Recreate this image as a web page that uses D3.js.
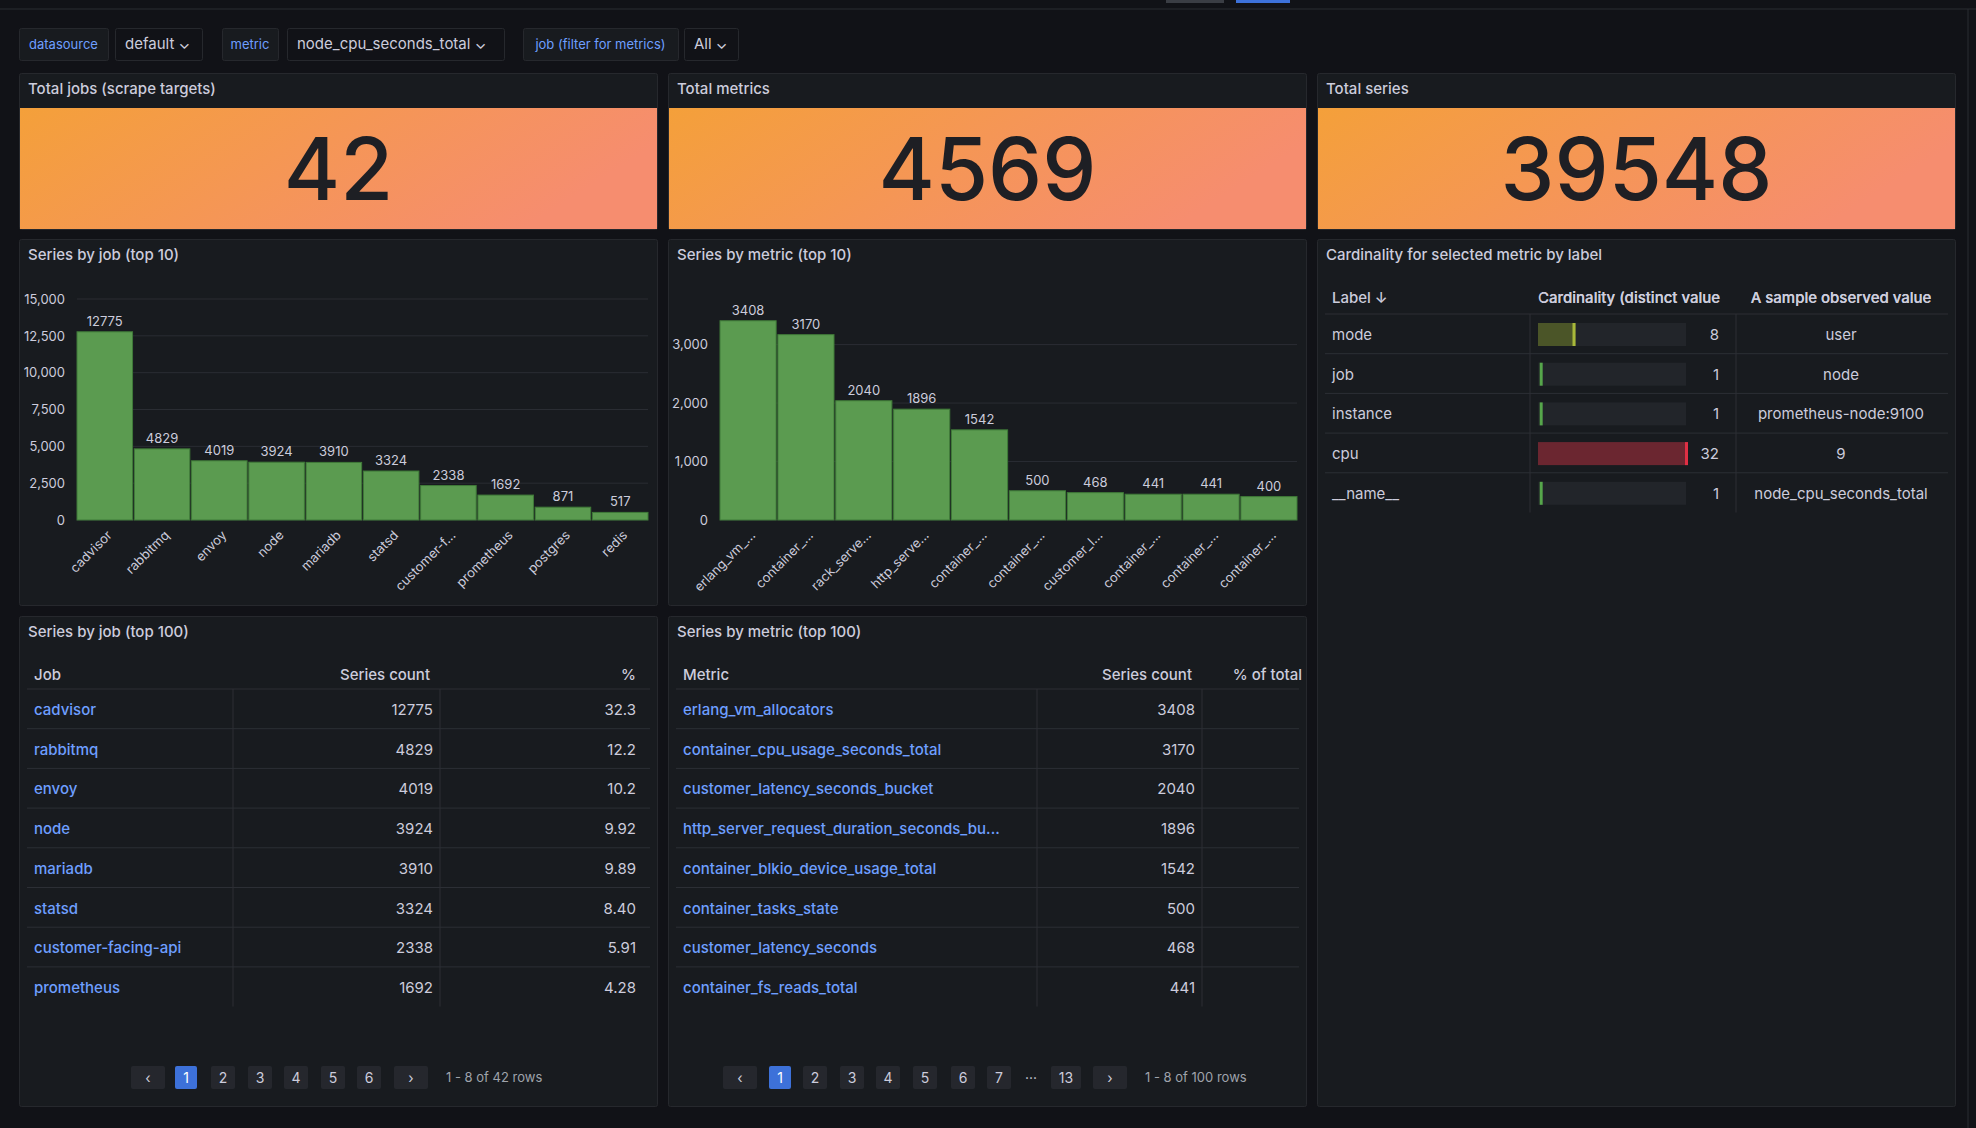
<!DOCTYPE html>
<html><head><meta charset="utf-8">
<script src="https://cdn.jsdelivr.net/npm/d3@7"></script>
<style>
body{margin:0;background:#111217;overflow:hidden}
svg{display:block;font-family:Inter,"Noto Sans",sans-serif}
</style></head><body>
<div id="dash"></div>
<script>
// stat values
const statTitles = ["Total jobs (scrape targets)", "Total metrics", "Total series"];
const statValues = [42, 4569, 39548];

// top-10 bar charts
const jobNames = ["cadvisor","rabbitmq","envoy","node","mariadb","statsd","customer-f...","prometheus","postgres","redis"];
const jobCounts = [12775,4829,4019,3924,3910,3324,2338,1692,871,517];
const metricNames = ["erlang_vm_...","container_...","rack_serve...","http_serve...","container_...","container_...","customer_l...","container_...","container_...","container_..."];
const metricCounts = [3408,3170,2040,1896,1542,500,468,441,441,400];
const jobTicks = [0,2500,5000,7500,10000,12500,15000];
const metricTicks = [0,1000,2000,3000];

// top-100 tables (first page)
const tableJobs = ["cadvisor","rabbitmq","envoy","node","mariadb","statsd","customer-facing-api","prometheus"];
const tableJobCounts = [12775,4829,4019,3924,3910,3324,2338,1692];
const tableJobPct = ["32.3","12.2","10.2","9.92","9.89","8.40","5.91","4.28"];
const tableMetrics = ["erlang_vm_allocators","container_cpu_usage_seconds_total","customer_latency_seconds_bucket","http_server_request_duration_seconds_bu...","container_blkio_device_usage_total","container_tasks_state","customer_latency_seconds","container_fs_reads_total"];
const tableMetricCounts = [3408,3170,2040,1896,1542,500,468,441];

// cardinality by label
const cardLabels = ["mode","job","instance","cpu","__name__"];
const cardValues = [8,1,1,32,1];
const cardSamples = ["user","node","prometheus-node:9100","9","node_cpu_seconds_total"];

const W = 1976, H = 1128;
const C = {bg:"#111217", panel:"#181b1f", border:"#26282d", text:"#ccccdc", dim:"#9fa3ab", blue:"#6e9fff", line:"#2c2f35", grid:"#2a2d33"};

const svg = d3.select("#dash").append("svg").attr("width", W).attr("height", H);
svg.append("rect").attr("width", W).attr("height", H).attr("fill", C.bg);
svg.append("line").attr("x1",0).attr("x2",W).attr("y1",9).attr("y2",9).attr("stroke","#2a2d33");
svg.append("rect").attr("x",1166).attr("y",0).attr("width",58).attr("height",3).attr("fill","#3a3d44");
svg.append("rect").attr("x",1236).attr("y",0).attr("width",54).attr("height",3).attr("fill","#3d71d9");
svg.append("line").attr("x1",1968).attr("x2",1968).attr("y1",9).attr("y2",H).attr("stroke","#2a2d33");

// variable bar
const vars = [
  {x:19,w:89,t:"datasource",lab:true},{x:115,w:87,t:"default ⌄"},
  {x:222,w:56,t:"metric",lab:true},{x:287,w:217,t:"node_cpu_seconds_total ⌄"},
  {x:523,w:155,t:"job (filter for metrics)",lab:true},{x:684,w:54,t:"All ⌄"}
];
vars.forEach(v => {
  svg.append("rect").attr("x",v.x+.5).attr("y",28.5).attr("width",v.w).attr("height",32).attr("rx",2)
    .attr("fill", v.lab ? "#181b1f" : C.bg).attr("stroke", C.border);
  svg.append("text").attr("x", v.x + (v.lab ? v.w/2 : 10)).attr("y",49)
    .attr("text-anchor", v.lab ? "middle" : "start")
    .attr("fill", v.lab ? C.blue : C.text).attr("font-size", v.lab ? 13 : 15).text(v.t);
});

function panel(x, y, w, h, title) {
  const g = svg.append("g").attr("transform", `translate(${x},${y})`);
  g.append("rect").attr("x",.5).attr("y",.5).attr("width",w-1).attr("height",h-1).attr("rx",2)
    .attr("fill", C.panel).attr("stroke", C.border);
  g.append("text").attr("x",9).attr("y",21).attr("fill",C.text).attr("font-size",15).attr("font-weight",500).text(title);
  return g;
}

// stat panels
const defs = svg.append("defs");
const grad = defs.append("linearGradient").attr("id","statg").attr("x1","0").attr("x2","1").attr("y1","0").attr("y2","0.3");
grad.append("stop").attr("offset","0").attr("stop-color","#f4a03a");
grad.append("stop").attr("offset","1").attr("stop-color","#f68d6f");
const statX = [19, 668, 1317], statW = 639;
statTitles.forEach((t, i) => {
  const g = panel(statX[i], 73, statW, 157, t);
  g.append("rect").attr("x",1).attr("y",35).attr("width",statW-2).attr("height",121).attr("fill","url(#statg)");
  g.append("text").attr("x",statW/2).attr("y",127).attr("text-anchor","middle").attr("fill","#1e1f24")
    .attr("font-size",86).attr("font-weight",500).text(statValues[i]);
});

// bar charts
function barChart(x0, title, names, vals, ticks, yMax, left) {
  const g = panel(x0, 239, 639, 367, title);
  const x = d3.scaleBand().domain(d3.range(names.length)).range([left, 629]).paddingInner(0.03);
  const y = d3.scaleLinear().domain([0, yMax]).range([281, 60]);
  const ax = g.append("g").attr("transform", `translate(${left - 6},0)`)
    .call(d3.axisLeft(y).tickValues(ticks).tickSize(0).tickPadding(6));
  ax.select(".domain").remove();
  ax.selectAll("text").attr("fill", C.text).attr("font-size", 13).attr("font-family","Inter,sans-serif");
  g.selectAll(".gl").data(ticks).join("line").attr("x1", left).attr("x2", 629)
    .attr("y1", d => y(d)).attr("y2", d => y(d)).attr("stroke", C.grid);
  g.selectAll(".bar").data(vals).join("rect")
    .attr("x", (d, i) => x(i)).attr("y", d => y(d)).attr("width", x.bandwidth()).attr("height", d => y(0) - y(d))
    .attr("fill", "#5b9b50").attr("stroke", "#3f7a38").attr("stroke-width", 1);
  g.selectAll(".vl").data(vals).join("text")
    .attr("x", (d, i) => x(i) + x.bandwidth()/2).attr("y", d => y(d) - 6)
    .attr("text-anchor","middle").attr("fill",C.text).attr("font-size",13).text(d => d);
  g.selectAll(".xl").data(names).join("text")
    .attr("transform", (d, i) => `translate(${x(i) + x.bandwidth()/2 + 8},${y(0) + 16}) rotate(-45)`)
    .attr("text-anchor","end").attr("fill",C.text).attr("font-size",13).text(d => d);
}
barChart(19, "Series by job (top 10)", jobNames, jobCounts, jobTicks, 15000, 58);
barChart(668, "Series by metric (top 10)", metricNames, metricCounts, metricTicks, 3780, 52);

// top-100 tables
function table(x0, title, head, names, counts, pcts, seps, countR, pctR, pagerBtns, pagerText) {
  const g = panel(x0, 616, 639, 491, title);
  const rowY = i => 93 + i * 39.7;
  g.append("text").attr("x",15).attr("y",64).attr("fill",C.text).attr("font-size",15).attr("font-weight",500).text(head);
  g.append("text").attr("x",countR).attr("y",64).attr("text-anchor","end").attr("fill",C.text).attr("font-size",15).attr("font-weight",500).text("Series count");
  g.append("text").attr("x",pctR).attr("y",64).attr("text-anchor","end").attr("fill",C.text).attr("font-size",15).attr("font-weight",500).text(pctR > 630 ? "% of total" : "%");
  g.selectAll(".hl").data(d3.range(names.length + 1)).join("line")
    .attr("x1",8).attr("x2",631).attr("y1", i => rowY(i) - 20).attr("y2", i => rowY(i) - 20)
    .attr("stroke", C.line).attr("opacity", i => i === names.length ? 0 : 1);
  seps.forEach(s => g.append("line").attr("x1",s).attr("x2",s).attr("y1",rowY(0)-20).attr("y2",rowY(names.length)-20).attr("stroke",C.line));
  names.forEach((n, i) => {
    g.append("text").attr("x",15).attr("y",rowY(i)+6).attr("fill",C.blue).attr("font-size",15).attr("font-weight",500).text(n);
    g.append("text").attr("x",countR+3).attr("y",rowY(i)+6).attr("text-anchor","end").attr("fill",C.text).attr("font-size",15).text(counts[i]);
    if (pcts) g.append("text").attr("x",pctR).attr("y",rowY(i)+6).attr("text-anchor","end").attr("fill",C.text).attr("font-size",15).text(pcts[i]);
  });
  pagerBtns.forEach(b => {
    if (b.t !== "···") g.append("rect").attr("x",b.x-b.w/2).attr("y",450).attr("width",b.w).attr("height",23).attr("rx",2)
      .attr("fill", b.t === "1" ? "#3d71d9" : "#25272d");
    g.append("text").attr("x",b.x).attr("y",467).attr("text-anchor","middle").attr("fill", b.t === "1" ? "#fff" : C.text)
      .attr("font-size",14).text(b.t);
  });
  g.append("text").attr("x",pagerText).attr("y",466).attr("fill",C.dim).attr("font-size",13).text(
    x0 < 300 ? "1 - 8 of 42 rows" : "1 - 8 of 100 rows");
}
const leftPager = [["‹",129,34],["1",167,22],["2",204,24],["3",241,24],["4",277,24],["5",314,24],["6",350,24],["›",392,34]]
  .map(([t,x,w]) => ({t,x,w}));
const rightPager = [["‹",72,34],["1",112,22],["2",147,24],["3",184,24],["4",220,24],["5",257,24],["6",295,24],["7",331,24],["···",363,0],["13",398,30],["›",442,34]]
  .map(([t,x,w]) => ({t,x,w}));
table(19, "Series by job (top 100)", "Job", tableJobs, tableJobCounts, tableJobPct, [214, 421], 411, 617, leftPager, 427);
table(668, "Series by metric (top 100)", "Metric", tableMetrics, tableMetricCounts, null, [369, 534], 524, 634, rightPager, 477);

// cardinality panel
const cp = panel(1317, 239, 639, 868, "Cardinality for selected metric by label");
const cRowY = i => 95 + i * 39.7;
const heads = [["Label ↓",15,"start"],["Cardinality (distinct value",221,"start"],["A sample observed value",524,"middle"]];
heads.forEach(([t,x,a]) => cp.append("text").attr("x",x).attr("y",64).attr("text-anchor",a).attr("fill",C.text)
  .attr("font-size",15).attr("font-weight",500).text(t));
cp.append("rect").attr("x",215).attr("y",44).attr("width",10).attr("height",28).attr("fill",C.panel);
cp.append("text").attr("x",221).attr("y",64).attr("fill",C.text).attr("font-size",15).attr("font-weight",500).text("Cardinality (distinct value");
cp.append("rect").attr("x",408).attr("y",44).attr("width",24).attr("height",28).attr("fill",C.panel);
cp.append("text").attr("x",524).attr("y",64).attr("text-anchor","middle").attr("fill",C.text).attr("font-size",15).attr("font-weight",500).text("A sample observed value");
const bx = d3.scaleLinear().domain([0, 32]).range([0, 150]);
const fillC = v => v >= 32 ? ["#6b2630","#e02f44"] : v >= 8 ? ["#4b5528","#a8b83a"] : ["#1f2126","#56a64b"];
cardLabels.forEach((l, i) => {
  const y = cRowY(i);
  cp.append("line").attr("x1",8).attr("x2",631).attr("y1",y-20).attr("y2",y-20).attr("stroke",C.line);
  cp.append("text").attr("x",15).attr("y",y+6).attr("fill",C.text).attr("font-size",15).text(l);
  cp.append("rect").attr("x",221).attr("y",y-11).attr("width",148).attr("height",23).attr("fill","#22252a");
  const [f, e] = fillC(cardValues[i]);
  cp.append("rect").attr("x",221).attr("y",y-11).attr("width",bx(cardValues[i])).attr("height",23).attr("fill",f);
  cp.append("rect").attr("x",221 + bx(cardValues[i]) - 3).attr("y",y-11).attr("width",3).attr("height",23).attr("fill",e);
  cp.append("text").attr("x",402).attr("y",y+6).attr("text-anchor","end").attr("fill",C.text).attr("font-size",15).text(cardValues[i]);
  cp.append("text").attr("x",524).attr("y",y+6).attr("text-anchor","middle").attr("fill",C.text).attr("font-size",15).text(cardSamples[i]);
});
[213, 419].forEach(s => cp.append("line").attr("x1",s).attr("x2",s).attr("y1",cRowY(0)-20).attr("y2",cRowY(5)-20).attr("stroke",C.line));
</script></body></html>
